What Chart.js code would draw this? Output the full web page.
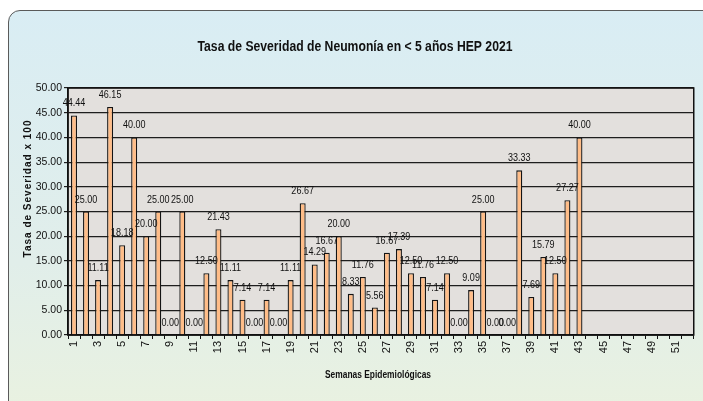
<!DOCTYPE html>
<html>
<head>
<meta charset="utf-8">
<script src="https://cdn.jsdelivr.net/npm/chart.js@4/dist/chart.umd.min.js"></script>
<style>
  html, body { margin: 0; padding: 0; background: #fff; }
  #wrap { position: relative; width: 703px; height: 401px; overflow: hidden; }
  #marco {
    position: absolute; left: 8px; top: 10px; width: 720px; height: 420px;
    border: 1.5px solid #5a5a5a; border-radius: 12px;
    background: linear-gradient(#d9edf4, #e1eeea 60%, #eaf2df);
  }
  #grafico { position: absolute; left: 0; top: 0; }
</style>
</head>
<body>
<div id="wrap">
  <div id="marco"></div>
  <canvas id="grafico" width="703" height="401"></canvas>
</div>
<script>
const semanas = [];
for (let i = 1; i <= 52; i++) semanas.push(String(i));

const tasas = [
  44.44, 25.00, 11.11, 46.15, 18.18, 40.00, 20.00, 25.00, 0.00, 25.00,
  0.00, 12.50, 21.43, 11.11, 7.14, 0.00, 7.14, 0.00, 11.11, 26.67,
  14.29, 16.67, 20.00, 8.33, 11.76, 5.56, 16.67, 17.39, 12.50, 11.76,
  7.14, 12.50, 0.00, 9.09, 25.00, 0.00, 0.00, 33.33, 7.69, 15.79,
  12.50, 27.27, 40.00,
  null, null, null, null, null, null, null, null, null
];

const titulo = "Tasa de Severidad de Neumonía en < 5 años HEP 2021";
const tituloY = "Tasa de Severidad x 100";
const tituloX = "Semanas Epidemiológicas";

const fuente = '"Liberation Sans", Arial, sans-serif';

// texto angosto (simula Arial Narrow)
function textoAngosto(ctx, texto, x, y, escalaX) {
  ctx.save();
  ctx.translate(x, y);
  ctx.scale(escalaX, 1);
  ctx.fillText(texto, 0, 0);
  ctx.restore();
}

// fondo gris del area de graficos con su borde
const fondoArea = {
  id: "fondoArea",
  beforeDraw(chart) {
    const { ctx, chartArea: a } = chart;
    ctx.save();
    ctx.fillStyle = "#e3e0dd";
    ctx.fillRect(a.left, a.top, a.right - a.left, a.bottom - a.top);
    ctx.restore();
  },
  afterDraw(chart) {
    const { ctx, chartArea: a } = chart;
    ctx.save();
    ctx.strokeStyle = "#111";
    ctx.lineWidth = 1.5;
    ctx.strokeRect(a.left, a.top, a.right - a.left, a.bottom - a.top);
    ctx.restore();
  }
};

// titulos del grafico y de los ejes
const titulos = {
  id: "titulos",
  afterDraw(chart) {
    const { ctx, chartArea: a } = chart;
    ctx.save();
    ctx.fillStyle = "#111";
    ctx.textAlign = "center";
    ctx.textBaseline = "middle";

    ctx.font = "bold 14px " + fuente;
    textoAngosto(ctx, titulo, 355, 47, 0.87);

    ctx.font = "bold 10px " + fuente;
    textoAngosto(ctx, tituloX, 378, 375, 0.84);

    ctx.translate(28, (a.top + a.bottom) / 2 - 23);
    ctx.rotate(-Math.PI / 2);
    ctx.letterSpacing = "1px";
    ctx.fillText(tituloY, 0, 0);
    ctx.restore();
  }
};

// etiquetas de valor encima de cada barra
const etiquetas = {
  id: "etiquetas",
  afterDatasetsDraw(chart) {
    const ctx = chart.ctx;
    const meta = chart.getDatasetMeta(0);
    ctx.save();
    ctx.font = "11px " + fuente;
    ctx.fillStyle = "#111";
    ctx.textAlign = "center";
    ctx.textBaseline = "middle";
    meta.data.forEach((barra, i) => {
      const v = tasas[i];
      if (v === null) return;
      textoAngosto(ctx, v.toFixed(2), barra.x, barra.y - 12, 0.82);
    });
    ctx.restore();
  }
};

const config = {
  type: "bar",
  data: {
    labels: semanas,
    datasets: [
      {
        data: tasas,
        backgroundColor: "#ffbd88",
        borderColor: "#141414",
        borderWidth: 1.3,
        borderSkipped: "bottom",
        barPercentage: 0.5,
        categoryPercentage: 1,
      },
    ],
  },
  options: {
    responsive: false,
    animation: false,
    layout: { padding: { left: 16, right: 7, top: 88, bottom: 18 } },
    plugins: {
      legend: { display: false },
      tooltip: { enabled: false },
      title: { display: false },
    },
    scales: {
      x: {
        offset: true,
        grid: {
          offset: true,
          drawOnChartArea: false,
          color: "#111",
          tickLength: 4,
        },
        border: { color: "#111", width: 1.5 },
        ticks: {
          autoSkip: false,
          maxRotation: 90,
          minRotation: 90,
          padding: 2,
          color: "#111",
          font: { size: 11, family: fuente },
          callback: (valor, indice) => (indice % 2 === 0 ? semanas[indice] : ""),
        },
        afterFit: (escala) => { escala.height = 48; },
      },
      y: {
        min: 0,
        max: 50,
        grid: { color: "#1e1e1e", lineWidth: 1.2, tickLength: 4 },
        border: { color: "#111", width: 1.5 },
        ticks: {
          stepSize: 5,
          padding: 2,
          color: "#111",
          font: { size: 10.5, family: fuente },
          callback: (valor) => valor.toFixed(2),
        },
        afterFit: (escala) => { escala.width = 52; },
      },
    },
  },
  plugins: [fondoArea, etiquetas, titulos],
};

new Chart(document.getElementById("grafico"), config);
</script>
</body>
</html>
